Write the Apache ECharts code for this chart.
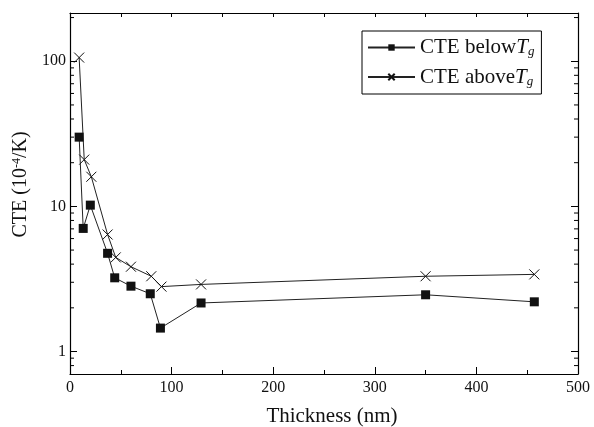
<!DOCTYPE html>
<html>
<head>
<meta charset="utf-8">
<script src="https://cdn.jsdelivr.net/npm/echarts@6/dist/echarts.min.js"></script>
<style>
  * { margin: 0; padding: 0; }
  #main { width: 594px; height: 427px; }
</style>
</head>
<body>
<div id="main"></div>
<script>
// thickness (nm) and CTE values (10^-4/K)
var thickBelow = [9, 13, 20, 37, 44, 60, 79, 89, 129, 350, 457];
var cteBelow = [30, 7.05, 10.2, 4.75, 3.22, 2.82, 2.5, 1.45, 2.16, 2.46, 2.2];
var thickAbove = [9, 14, 21, 37, 45, 60, 80, 90, 129, 350, 457];
var cteAbove = [106, 21, 16, 6.4, 4.45, 3.84, 3.3, 2.8, 2.9, 3.3, 3.4];
var minorTickVals = [0.8, 0.9, 2, 3, 4, 5, 6, 7, 8, 9, 20, 30, 40, 50, 60, 70, 80, 90, 200];

var font = 'Liberation Serif';
var crossPath = 'path://M0,0L10,10M10,0L0,10';

function pairs(xs, ys) {
    var out = [];
    for (var i = 0; i < xs.length; i++) out.push([xs[i], ys[i]]);
    return out;
}

var myChart = echarts.init(document.getElementById('main'));

var axisLineStyle = { onZero: false, lineStyle: { color: '#000', width: 1.2 } };

var option = {
    backgroundColor: '#fff',
    animation: false,
    grid: { left: 70, right: 16, top: 13, bottom: 53, outerBoundsMode: 'none', containLabel: false },
    legend: {
        left: 362, top: 31,
        orient: 'vertical',
        backgroundColor: '#fff',
        borderColor: '#000',
        borderWidth: 1,
        borderRadius: 0,
        padding: [6, 7, 6, 5],
        itemWidth: 47, itemHeight: 8, itemGap: 8,
        textStyle: {
            fontFamily: font, fontSize: 21, color: '#111',
            rich: {
                t: { fontFamily: font, fontSize: 21, fontStyle: 'italic', color: '#111' },
                g: { fontFamily: font, fontSize: 13, fontStyle: 'italic', color: '#111', verticalAlign: 'bottom', padding: [9, 0, 0, 0] }
            }
        },
        formatter: function (name) {
            return name === 'below' ? 'CTE below{t|T}{g|g}' : 'CTE above{t|T}{g|g}';
        },
        data: ['below', 'above']
    },
    xAxis: [{
        type: 'value', min: 0, max: 500, interval: 100,
        axisLine: axisLineStyle,
        axisTick: { inside: true, length: 7, lineStyle: { color: '#000' } },
        minorTick: { show: true, splitNumber: 2, length: 4, lineStyle: { color: '#000' } },
        axisLabel: { fontFamily: font, fontSize: 16, color: '#111', margin: 6 },
        splitLine: { show: false },
        name: 'Thickness (nm)', nameLocation: 'middle', nameGap: 32,
        nameTextStyle: { fontFamily: font, fontSize: 21, color: '#111', padding: [0, 0, 0, 16] }
    }, {
        type: 'value', min: 0, max: 500, interval: 50, position: 'top',
        axisLine: axisLineStyle,
        axisTick: { inside: true, length: 4, lineStyle: { color: '#000' } },
        axisLabel: { show: false },
        splitLine: { show: false }
    }],
    yAxis: [{
        type: 'log', min: 0.7, max: 215, logBase: 10,
        axisLine: axisLineStyle,
        axisTick: { inside: true, length: 7, lineStyle: { color: '#000' } },
        axisLabel: {
            fontFamily: font, fontSize: 16, color: '#111', margin: 4,
            formatter: function (v) {
                var l = Math.log10(v);
                return Math.abs(l - Math.round(l)) < 1e-6 ? String(Math.round(v)) : '';
            }
        },
        splitLine: { show: false },
        name: 'CTE (10{sup|-4}/K)', nameLocation: 'middle', nameGap: 38, nameRotate: 90,
        nameTextStyle: {
            fontFamily: font, fontSize: 20, color: '#111', padding: [0, 0, 0, 18],
            rich: { sup: { fontFamily: font, fontSize: 12, color: '#111', verticalAlign: 'top', padding: [0, 0, 8, 0] } }
        }
    }, {
        type: 'log', min: 0.7, max: 215, logBase: 10, position: 'right',
        axisLine: axisLineStyle,
        axisTick: { inside: true, length: 7, lineStyle: { color: '#000' } },
        axisLabel: { show: false },
        splitLine: { show: false }
    }],
    series: [{
        name: 'below', type: 'line',
        data: pairs(thickBelow, cteBelow),
        symbol: 'rect', symbolSize: 9,
        lineStyle: { color: '#222', width: 1 },
        itemStyle: { color: '#111' },
        z: 3
    }, {
        name: 'above', type: 'line',
        data: pairs(thickAbove, cteAbove),
        symbol: crossPath, symbolSize: 10,
        lineStyle: { color: '#222', width: 1 },
        itemStyle: { color: 'transparent', borderColor: '#111', borderWidth: 1 },
        z: 3
    }, {
        // log-spaced minor ticks on the left and right y axes
        type: 'custom', silent: true, clip: false,
        data: minorTickVals.map(function (v) { return [0, v]; }),
        renderItem: function (params, api) {
            var cs = params.coordSys;
            var y = api.coord([0, api.value(1)])[1];
            var st = { stroke: '#000', lineWidth: 1 };
            return {
                type: 'group',
                children: [
                    { type: 'line', shape: { x1: cs.x, y1: y, x2: cs.x + 4, y2: y }, style: st },
                    { type: 'line', shape: { x1: cs.x + cs.width, y1: y, x2: cs.x + cs.width - 4, y2: y }, style: st }
                ]
            };
        }
    }]
};

myChart.setOption(option);
</script>
</body>
</html>
